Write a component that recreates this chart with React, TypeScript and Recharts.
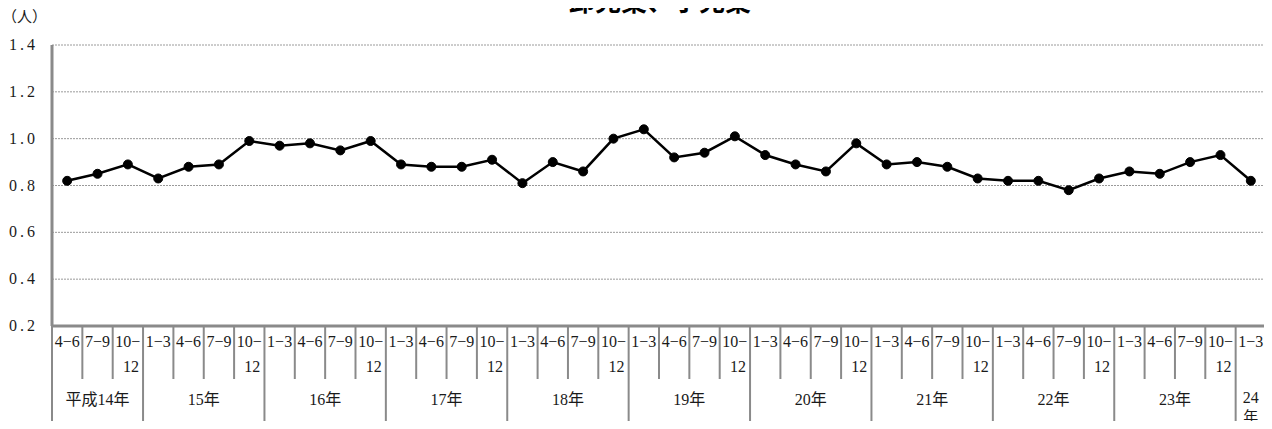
import { CartesianGrid, Line, LineChart, XAxis, YAxis } from "recharts";

// 四半期ラベル（平成14年4-6月〜平成24年1-3月）
const QUARTERS = [
	"4−6", "7−9", "10−12",
	"1−3", "4−6", "7−9", "10−12",
	"1−3", "4−6", "7−9", "10−12",
	"1−3", "4−6", "7−9", "10−12",
	"1−3", "4−6", "7−9", "10−12",
	"1−3", "4−6", "7−9", "10−12",
	"1−3", "4−6", "7−9", "10−12",
	"1−3", "4−6", "7−9", "10−12",
	"1−3", "4−6", "7−9", "10−12",
	"1−3", "4−6", "7−9", "10−12",
	"1−3",
];

const YEAR_LABELS = [
	"平成14年", "15年", "16年", "17年", "18年",
	"19年", "20年", "21年", "22年", "23年", "24年",
];

const VALUES = [
	0.82, 0.85, 0.89,
	0.83, 0.88, 0.89, 0.99,
	0.97, 0.98, 0.95, 0.99,
	0.89, 0.88, 0.88, 0.91,
	0.81, 0.9, 0.86, 1.0,
	1.04, 0.92, 0.94, 1.01,
	0.93, 0.89, 0.86, 0.98,
	0.89, 0.9, 0.88, 0.83,
	0.82, 0.82, 0.78, 0.83,
	0.86, 0.85, 0.9, 0.93,
	0.82,
];

const Y_TICKS = [0.2, 0.4, 0.6, 0.8, 1.0, 1.2, 1.4];

const WIDTH = 1272;
const HEIGHT = 429;
const Y_AXIS_W = 52;
const X_AXIS_H = 103;
const MARGIN = { top: 45, right: 6, left: 0, bottom: 0 };

const AXIS_COLOR = "#8a8a8a";
const GRID_COLOR = "#9a9a9a";
const TEXT_COLOR = "#1a1a1a";
const FONT = "'Liberation Serif', 'Noto Sans CJK JP', serif";
const FS = 16;

// 年の区切り: 先頭 or 1-3月で新しい年
const groupStarts: number[] = [];
QUARTERS.forEach((q, i) => {
	if (i === 0 || q === "1−3") groupStarts.push(i);
});
const groupSize = (g: number) =>
	(groupStarts[g + 1] ?? QUARTERS.length) - groupStarts[g];

const data = QUARTERS.map((q, i) => ({ idx: i, q, v: VALUES[i] }));

const BAND = (WIDTH - Y_AXIS_W - MARGIN.right - MARGIN.left) / QUARTERS.length;

function QuarterTick(props: any) {
	const { x, y, payload } = props;
	const i = payload.value as number;
	const left = x - BAND / 2;
	const g = groupStarts.indexOf(i);
	const label = QUARTERS[i];
	const twoLine = label.startsWith("10");
	const bottom = y + X_AXIS_H;
	const shortBottom = y + 53;

	return (
		<g>
			<line
				x1={left}
				x2={left}
				y1={y}
				y2={g >= 0 ? bottom : shortBottom}
				stroke={AXIS_COLOR}
				strokeWidth={2}
			/>
			{i === QUARTERS.length - 1 && (
				<line
					x1={x + BAND / 2}
					x2={x + BAND / 2}
					y1={y}
					y2={bottom}
					stroke={AXIS_COLOR}
					strokeWidth={2}
				/>
			)}
			{twoLine ? (
				<>
					<text x={x} y={y + 21} textAnchor="middle" fontSize={FS} fontFamily={FONT} fill={TEXT_COLOR}>
						10−
					</text>
					<text x={x + 3} y={y + 46} textAnchor="middle" fontSize={FS} fontFamily={FONT} fill={TEXT_COLOR}>
						12
					</text>
				</>
			) : (
				<text x={x} y={y + 21} textAnchor="middle" fontSize={FS} fontFamily={FONT} fill={TEXT_COLOR}>
					{label}
				</text>
			)}
			{g >= 0 &&
				(groupSize(g) === 1 ? (
					<>
						<text x={left + BAND / 2} y={y + 77} textAnchor="middle" fontSize={FS} fontFamily={FONT} fill={TEXT_COLOR}>
							{YEAR_LABELS[g].replace("年", "")}
						</text>
						<text x={left + BAND / 2} y={y + 96} textAnchor="middle" fontSize={FS - 1} fontFamily={FONT} fill={TEXT_COLOR}>
							年
						</text>
					</>
				) : (
					<text
						x={left + (groupSize(g) * BAND) / 2}
						y={y + 79}
						textAnchor="middle"
						fontSize={FS}
						fontFamily={FONT}
						fill={TEXT_COLOR}
					>
						{YEAR_LABELS[g]}
					</text>
				))}
		</g>
	);
}

function ValueTick(props: any) {
	const { x, y, payload } = props;
	return (
		<text
			x={x}
			y={y + 5}
			textAnchor="end"
			fontSize={16}
			fontFamily={FONT}
			letterSpacing={3}
			fill={TEXT_COLOR}
		>
			{Number(payload.value).toFixed(1)}
		</text>
	);
}

export default function App() {
	return (
		<div style={{ margin: -8, position: "relative", width: WIDTH, height: HEIGHT, background: "#fff", overflow: "hidden" }}>
			<LineChart width={WIDTH} height={HEIGHT} data={data} margin={MARGIN}>
				<CartesianGrid
					vertical={false}
					stroke={GRID_COLOR}
					strokeDasharray="2 1"
				/>
				<XAxis
					dataKey="idx"
					scale="band"
					interval={0}
					height={X_AXIS_H}
					tickLine={false}
					tickSize={0}
					tickMargin={0}
					axisLine={{ stroke: AXIS_COLOR, strokeWidth: 3 }}
					tick={<QuarterTick />}
				/>
				<YAxis
					width={Y_AXIS_W}
					domain={[0.2, 1.4]}
					ticks={Y_TICKS}
					interval={0}
					tickLine={false}
					tickSize={0}
					tickMargin={14}
					axisLine={{ stroke: AXIS_COLOR, strokeWidth: 3 }}
					tick={<ValueTick />}
				/>
				<Line
					type="linear"
					dataKey="v"
					stroke="#000"
					strokeWidth={2.5}
					dot={{ r: 4.5, fill: "#000", stroke: "#000", strokeWidth: 1 }}
					isAnimationActive={false}
				/>
			</LineChart>
			<div
				style={{
					position: "absolute",
					top: -19,
					left: 0,
					width: 1320,
					textAlign: "center",
					fontFamily: "'Noto Sans CJK JP', sans-serif",
					fontWeight: 700,
					fontSize: 26,
					color: "#000",
					zIndex: 2,
				}}
			>
				卸売業、小売業
			</div>
			<div
				style={{
					position: "absolute",
					top: 5,
					left: 2,
					fontFamily: "'Noto Sans CJK JP', sans-serif",
					fontSize: 15,
					color: TEXT_COLOR,
					zIndex: 2,
				}}
			>
				（人）
			</div>
		</div>
	);
}
